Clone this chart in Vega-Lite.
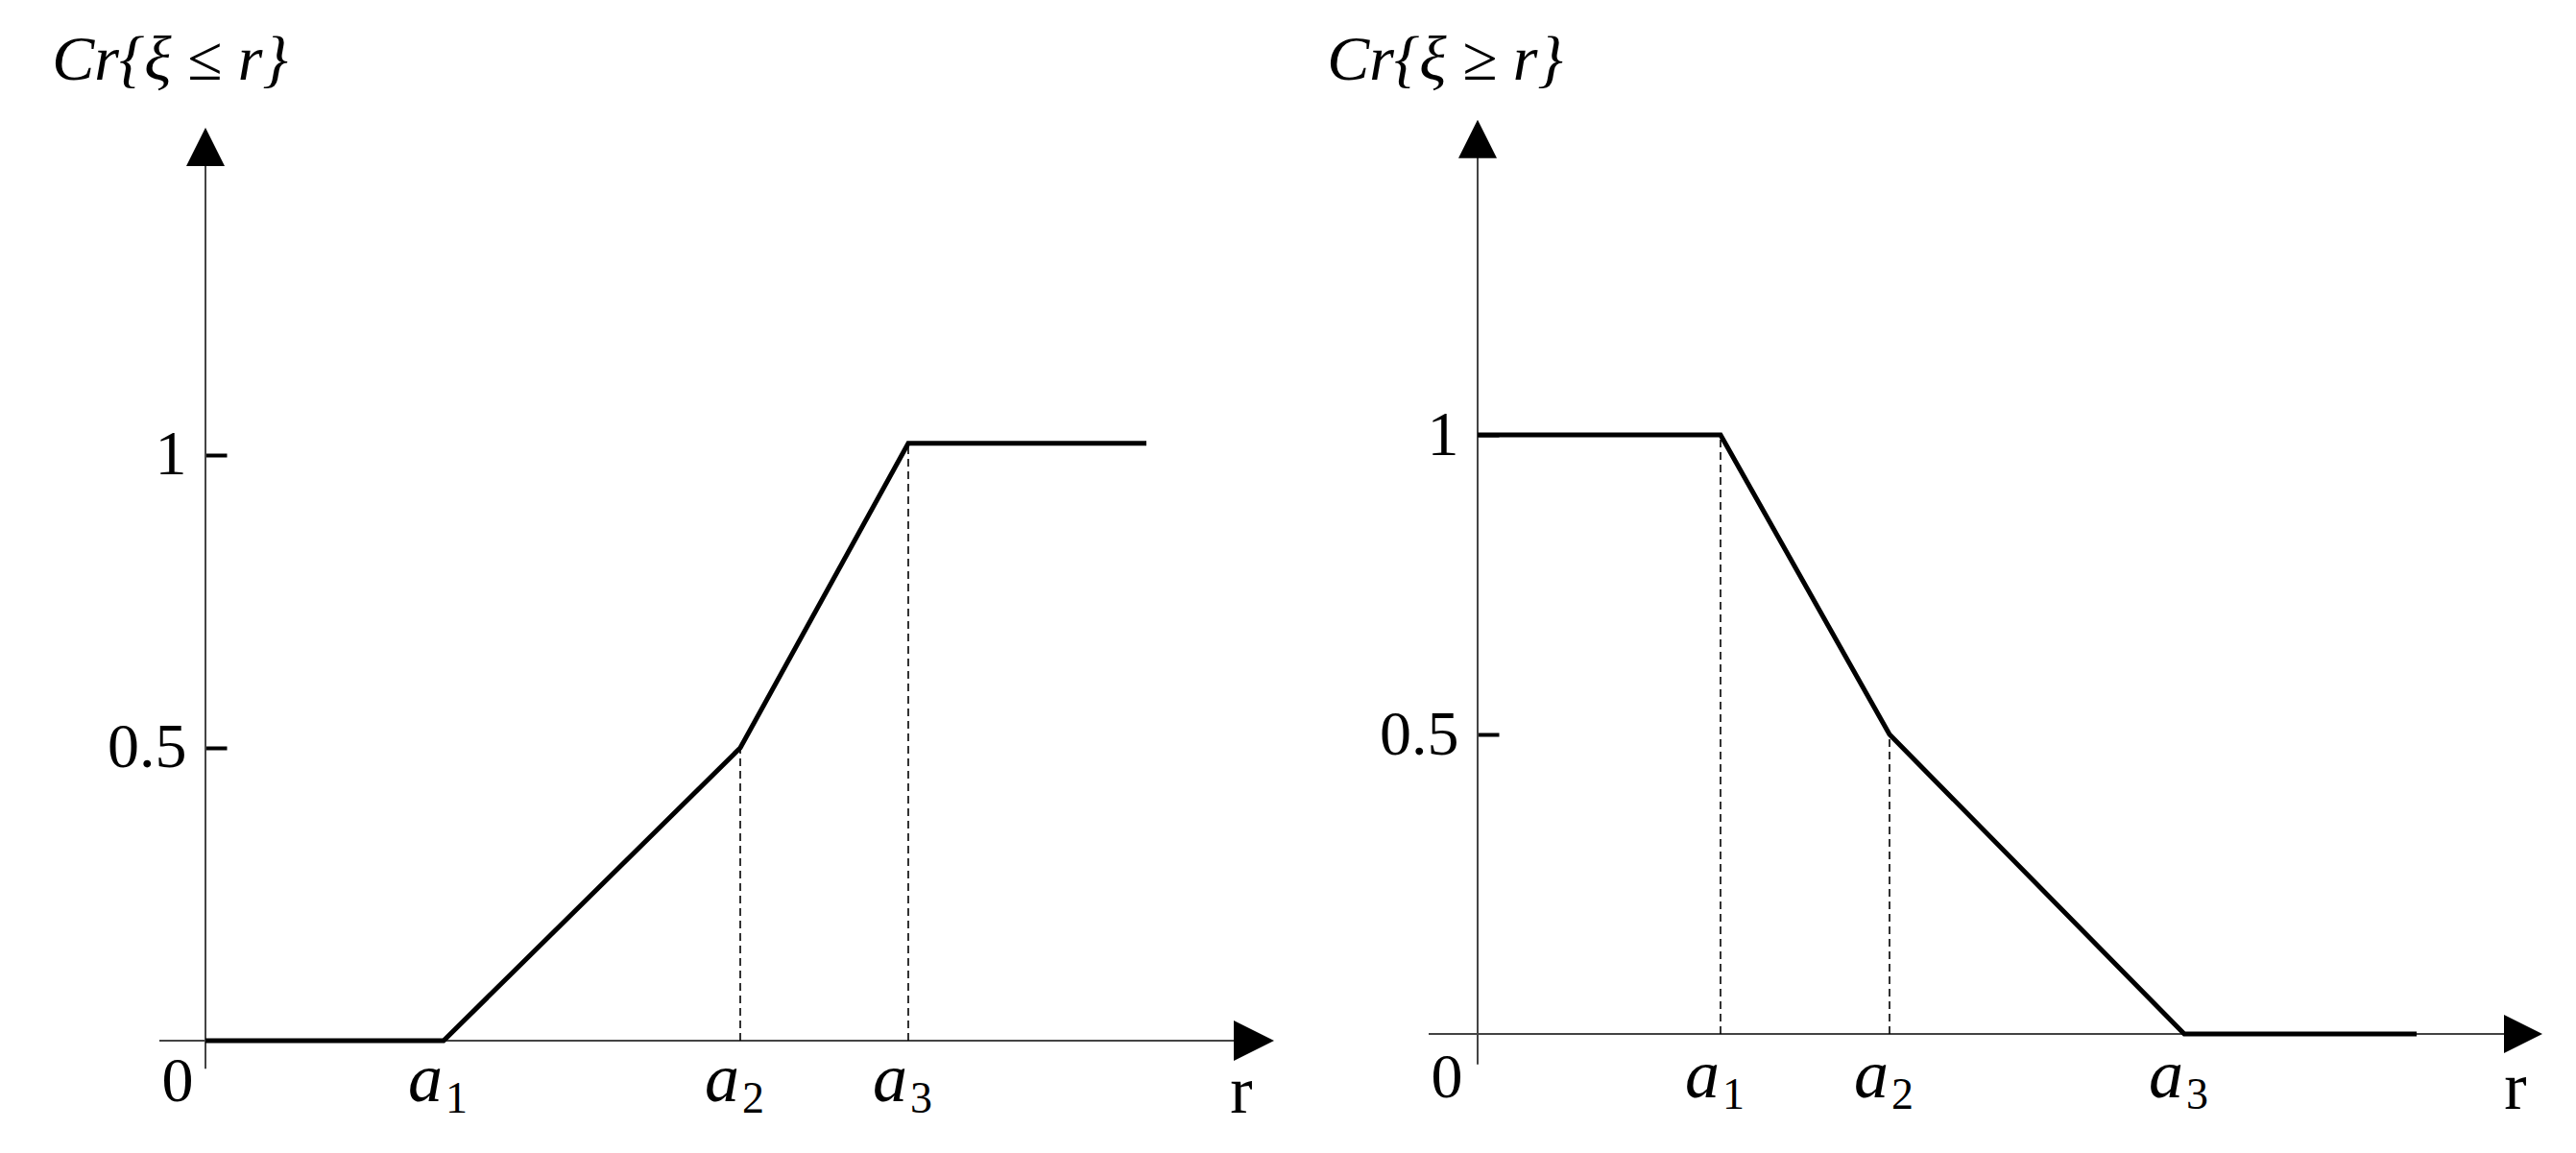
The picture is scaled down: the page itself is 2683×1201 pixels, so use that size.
{
  "$schema": "https://vega.github.io/schema/vega-lite/v6.json",
  "background": "white",
  "padding": 0,
  "spacing": 0,
  "config": {
    "view": {"stroke": null},
    "axis": {"grid": false}
  },
  "hconcat": [
    {
      "width": 1340,
      "height": 1201,
      "encoding": {
        "x": {"field": "x", "type": "quantitative", "scale": {"domain": [-2.14, 11.26], "nice": false, "zero": false}, "axis": null},
        "y": {"field": "y", "type": "quantitative", "scale": {"domain": [-0.1918, 1.777], "nice": false, "zero": false},
          "axis": {"orient": "left", "offset": -214, "values": [0.5, 1], "format": "~g", "domain": false, "ticks": true, "tickSize": -22, "tickWidth": 4, "tickColor": "black", "labelFont": "Liberation Serif", "labelFontSize": 66, "labelColor": "black", "labelPadding": 42, "title": null, "grid": false}}
      },
      "layer": [
        {
          "data": {"values": [{"x": -0.48, "x2": 10.92, "y": 0}]},
          "mark": {"type": "rule", "color": "#444444", "strokeWidth": 2},
          "encoding": {"x2": {"field": "x2"}}
        },
        {
          "data": {"values": [{"x": 0, "y": -0.048, "y2": 1.526}]},
          "mark": {"type": "rule", "color": "#444444", "strokeWidth": 2},
          "encoding": {"y2": {"field": "y2"}}
        },
        {
          "data": {"values": [{"x": 5.57, "y": 0, "y2": 0.5}, {"x": 7.32, "y": 0, "y2": 1.02}]},
          "mark": {"type": "rule", "color": "black", "strokeWidth": 1.6, "strokeDash": [8, 5]},
          "encoding": {"y2": {"field": "y2"}}
        },
        {
          "data": {"values": [{"x": 0, "y": 0}, {"x": 2.48, "y": 0}, {"x": 5.57, "y": 0.5}, {"x": 7.32, "y": 1.02}, {"x": 9.8, "y": 1.02}]},
          "mark": {"type": "line", "color": "black", "strokeWidth": 5, "strokeJoin": "miter"},
          "encoding": {"order": {"field": "x", "type": "quantitative"}}
        },
        {
          "data": {"values": [{"x": 10.92, "y": 0}]},
          "mark": {"type": "point", "shape": "M-1,-1L1,0L-1,1Z", "size": 1764, "filled": true, "color": "black", "opacity": 1}
        },
        {
          "data": {"values": [{"x": 0, "y": 1.526}]},
          "mark": {"type": "point", "shape": "M-1,1L0,-1L1,1Z", "size": 1600, "filled": true, "color": "black", "opacity": 1}
        },
        {
          "data": {"values": [{"x": 2.48, "y": 0, "t": "a"}, {"x": 5.57, "y": 0, "t": "a"}, {"x": 7.32, "y": 0, "t": "a"}]},
          "mark": {"type": "text", "font": "Liberation Serif", "fontStyle": "italic", "fontSize": 72, "align": "right", "baseline": "alphabetic", "dx": -1, "dy": 63, "color": "black"},
          "encoding": {"text": {"field": "t"}}
        },
        {
          "data": {"values": [{"x": 2.48, "y": 0, "s": "1"}, {"x": 5.57, "y": 0, "s": "2"}, {"x": 7.32, "y": 0, "s": "3"}]},
          "mark": {"type": "text", "font": "Liberation Serif", "fontSize": 46, "align": "left", "baseline": "alphabetic", "dx": 2, "dy": 75, "color": "black"},
          "encoding": {"text": {"field": "s"}}
        },
        {
          "data": {"values": [{"x": 0, "y": 0, "t": "0"}]},
          "mark": {"type": "text", "font": "Liberation Serif", "fontSize": 66, "align": "center", "baseline": "alphabetic", "dx": -29, "dy": 63, "color": "black"},
          "encoding": {"text": {"field": "t"}}
        },
        {
          "data": {"values": [{"x": 10.92, "y": 0, "t": "r"}]},
          "mark": {"type": "text", "font": "Liberation Serif", "fontSize": 70, "align": "center", "baseline": "alphabetic", "dx": -13, "dy": 75, "color": "black"},
          "encoding": {"text": {"field": "t"}}
        },
        {
          "data": {"values": [{"x": 0, "y": 1.641, "t": "Cr{ξ ≤ r}"}]},
          "mark": {"type": "text", "font": "Liberation Serif", "fontStyle": "italic", "fontSize": 66, "align": "center", "baseline": "alphabetic", "dx": -37, "color": "black"},
          "encoding": {"text": {"field": "t"}}
        }
      ]
    },
    {
      "width": 1343,
      "height": 1201,
      "encoding": {
        "x": {"field": "x", "type": "quantitative", "scale": {"domain": [-1.99, 11.44], "nice": false, "zero": false}, "axis": null},
        "y": {"field": "y", "type": "quantitative", "scale": {"domain": [-0.1987, 1.726], "nice": false, "zero": false},
          "axis": {"orient": "left", "offset": -199, "values": [0.5, 1], "format": "~g", "domain": false, "ticks": true, "tickSize": -22, "tickWidth": 4, "tickColor": "black", "labelFont": "Liberation Serif", "labelFontSize": 66, "labelColor": "black", "labelPadding": 42, "title": null, "grid": false}}
      },
      "layer": [
        {
          "data": {"values": [{"x": -0.51, "x2": 10.89, "y": 0}]},
          "mark": {"type": "rule", "color": "#444444", "strokeWidth": 2},
          "encoding": {"x2": {"field": "x2"}}
        },
        {
          "data": {"values": [{"x": 0, "y": -0.051, "y2": 1.494}]},
          "mark": {"type": "rule", "color": "#444444", "strokeWidth": 2},
          "encoding": {"y2": {"field": "y2"}}
        },
        {
          "data": {"values": [{"x": 2.53, "y": 0, "y2": 1}, {"x": 4.29, "y": 0, "y2": 0.5}]},
          "mark": {"type": "rule", "color": "black", "strokeWidth": 1.6, "strokeDash": [8, 5]},
          "encoding": {"y2": {"field": "y2"}}
        },
        {
          "data": {"values": [{"x": 0, "y": 1}, {"x": 2.53, "y": 1}, {"x": 4.29, "y": 0.5}, {"x": 7.36, "y": 0}, {"x": 9.78, "y": 0}]},
          "mark": {"type": "line", "color": "black", "strokeWidth": 5, "strokeJoin": "miter"},
          "encoding": {"order": {"field": "x", "type": "quantitative"}}
        },
        {
          "data": {"values": [{"x": 10.89, "y": 0}]},
          "mark": {"type": "point", "shape": "M-1,-1L1,0L-1,1Z", "size": 1600, "filled": true, "color": "black", "opacity": 1}
        },
        {
          "data": {"values": [{"x": 0, "y": 1.494}]},
          "mark": {"type": "point", "shape": "M-1,1L0,-1L1,1Z", "size": 1600, "filled": true, "color": "black", "opacity": 1}
        },
        {
          "data": {"values": [{"x": 2.53, "y": 0, "t": "a"}, {"x": 4.29, "y": 0, "t": "a"}, {"x": 7.36, "y": 0, "t": "a"}]},
          "mark": {"type": "text", "font": "Liberation Serif", "fontStyle": "italic", "fontSize": 72, "align": "right", "baseline": "alphabetic", "dx": -1, "dy": 66, "color": "black"},
          "encoding": {"text": {"field": "t"}}
        },
        {
          "data": {"values": [{"x": 2.53, "y": 0, "s": "1"}, {"x": 4.29, "y": 0, "s": "2"}, {"x": 7.36, "y": 0, "s": "3"}]},
          "mark": {"type": "text", "font": "Liberation Serif", "fontSize": 46, "align": "left", "baseline": "alphabetic", "dx": 2, "dy": 78, "color": "black"},
          "encoding": {"text": {"field": "s"}}
        },
        {
          "data": {"values": [{"x": 0, "y": 0, "t": "0"}]},
          "mark": {"type": "text", "font": "Liberation Serif", "fontSize": 66, "align": "center", "baseline": "alphabetic", "dx": -32, "dy": 66, "color": "black"},
          "encoding": {"text": {"field": "t"}}
        },
        {
          "data": {"values": [{"x": 10.89, "y": 0, "t": "r"}]},
          "mark": {"type": "text", "font": "Liberation Serif", "fontSize": 70, "align": "center", "baseline": "alphabetic", "dx": -8, "dy": 78, "color": "black"},
          "encoding": {"text": {"field": "t"}}
        },
        {
          "data": {"values": [{"x": 0, "y": 1.593, "t": "Cr{ξ ≥ r}"}]},
          "mark": {"type": "text", "font": "Liberation Serif", "fontStyle": "italic", "fontSize": 66, "align": "center", "baseline": "alphabetic", "dx": -34, "color": "black"},
          "encoding": {"text": {"field": "t"}}
        }
      ]
    }
  ]
}
